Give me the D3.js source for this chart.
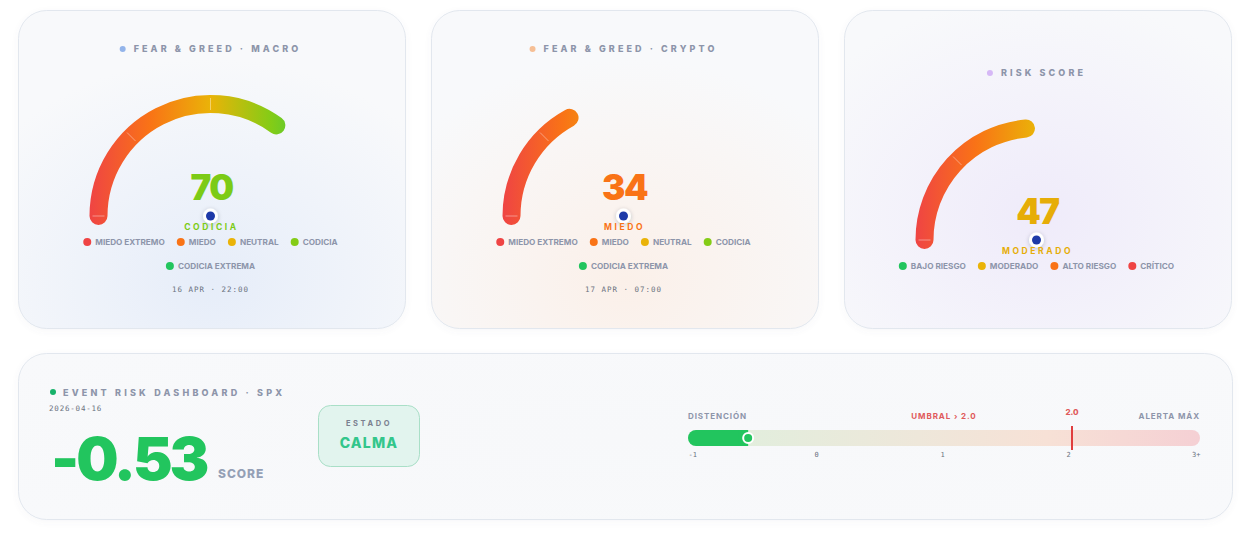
<!DOCTYPE html>
<html><head><meta charset="utf-8">
<script src="https://cdn.jsdelivr.net/npm/d3@7"></script>
<style>
html,body{margin:0;padding:0;background:#ffffff;}
svg{display:block;font-family:Inter,"Noto Sans",sans-serif;}
.mono{font-family:"DejaVu Sans Mono","Liberation Mono",monospace;}
</style></head>
<body><svg id="chart" width="1258" height="535"></svg>
<script>
// ---------- DATA ----------
const gaugeTitles = ["FEAR & GREED · MACRO", "FEAR & GREED · CRYPTO", "RISK SCORE"];
const gaugeValues = [70, 34, 47];
const gaugeLabels = ["CODICIA", "MIEDO", "MODERADO"];
const gaugeDates = ["16 APR · 22:00", "17 APR · 07:00", ""];
const fearGreedLegend = ["MIEDO EXTREMO", "MIEDO", "NEUTRAL", "CODICIA", "CODICIA EXTREMA"];
const riskLegend = ["BAJO RIESGO", "MODERADO", "ALTO RIESGO", "CRÍTICO"];
const gaugeTicks = [0, 25, 50, 75, 100];
const eventTitle = "EVENT RISK DASHBOARD · SPX";
const eventDate = "2026-04-16";
const eventScore = -0.53;
const eventState = "CALMA";
const eventThreshold = 2.0;
const barTickValues = [-1, 0, 1, 2, 3];
const barTickLabels = ["-1", "0", "1", "2", "3+"];

// ---------- STYLE ----------
const gradStops = ["#ef4444", "#f97316", "#eab308", "#84cc16", "#22c55e"];
const fgColors = ["#ef4444", "#f97316", "#eab308", "#84cc16", "#22c55e"];
const riskColors = ["#22c55e", "#eab308", "#f97316", "#ef4444"];
const valueColors = ["#7ccb16", "#f97316", "#e6ad08"];
const titleDots = ["#93b4ea", "#f6bf95", "#d6b8f6"];
const glowColors = ["#e6edf9", "#fbf0e9", "#efebfa"];
const textGray = "#8d95aa";

const svg = d3.select("#chart");
const defs = svg.append("defs");
const fmtMinus = d3.formatLocale({ decimal: ".", thousands: ",", grouping: [3], currency: ["$", ""], minus: "-" });

const sh = defs.append("filter").attr("id", "dotShadow").attr("x", "-100%").attr("y", "-100%").attr("width", "300%").attr("height", "300%");
sh.append("feDropShadow").attr("dx", 0).attr("dy", 1).attr("stdDeviation", 2).attr("flood-color", "#1e293b").attr("flood-opacity", 0.25);
const cs = defs.append("filter").attr("id", "cardShadow").attr("x", "-10%").attr("y", "-10%").attr("width", "120%").attr("height", "130%");
cs.append("feDropShadow").attr("dx", 0).attr("dy", 2).attr("stdDeviation", 3).attr("flood-color", "#64748b").attr("flood-opacity", 0.05);

// ---------- CARDS ----------
const cardW = 387, cardH = 318, cardY = 10;
const cardXs = [18, 431, 844];

function card(x, y, w, h, glow, gid, gcx, gcy) {
  const rg = defs.append("radialGradient").attr("id", gid).attr("cx", gcx).attr("cy", gcy).attr("r", "70%");
  rg.append("stop").attr("offset", "0%").attr("stop-color", glow);
  rg.append("stop").attr("offset", "100%").attr("stop-color", "#f8f9fb");
  svg.append("rect").attr("x", x + 0.5).attr("y", y + 0.5).attr("width", w).attr("height", h).attr("rx", 28)
    .attr("fill", "url(#" + gid + ")").attr("stroke", "#e2e7ee").attr("stroke-width", 1).attr("filter", "url(#cardShadow)");
}

// value -> angle in canvas convention (0 = 3 o'clock, clockwise); 0 => left, 100 => right
const angle = d3.scaleLinear().domain([0, 100]).range([Math.PI, 2 * Math.PI]);
const R = 112, SW = 18;

gaugeValues.forEach((val, i) => {
  const x0 = cardXs[i];
  const isRisk = i === 2;
  card(x0, cardY, cardW, cardH, glowColors[i], "glow" + i, "50%", isRisk ? "65%" : "85%");
  const cx = x0 + cardW / 2 - 1;
  const cy = isRisk ? 240 : 216;
  const titleY = isRisk ? 72 : 48;
  const g = svg.append("g");

  // title
  const t = g.append("text").attr("y", titleY + 1).attr("dy", "0.35em").attr("font-size", 9).attr("font-weight", 800)
    .attr("letter-spacing", "3.1px").attr("fill", textGray).text(gaugeTitles[i]);
  const tw = t.node().getComputedTextLength();
  const total = tw + 14;
  t.attr("x", cx - total / 2 + 14);
  g.append("circle").attr("cx", cx - total / 2 + 3).attr("cy", titleY + 1).attr("r", 3).attr("fill", titleDots[i]);

  // gradient across the gauge (coordinates relative to gauge centre)
  const gradId = "arcGrad" + i;
  const lg0 = defs.append("linearGradient").attr("id", gradId).attr("gradientUnits", "userSpaceOnUse")
    .attr("x1", -R - SW / 2).attr("x2", R + SW / 2).attr("y1", 0).attr("y2", 0);
  gradStops.forEach((c, k) => lg0.append("stop").attr("offset", k / (gradStops.length - 1)).attr("stop-color", c));

  const ag = g.append("g").attr("transform", `translate(${cx},${cy})`);
  const p = d3.path();
  p.arc(0, 0, R, angle(0), angle(val), false);
  ag.append("path").attr("d", p.toString()).attr("fill", "none")
    .attr("stroke", `url(#${gradId})`).attr("stroke-width", SW).attr("stroke-linecap", "round");
  // tick marks
  ag.selectAll("line.tk").data(gaugeTicks.filter(v => v < val)).join("line").attr("class", "tk")
    .attr("x1", d => (R - 6) * Math.cos(angle(d))).attr("y1", d => (R - 6) * Math.sin(angle(d)))
    .attr("x2", d => (R + 6) * Math.cos(angle(d))).attr("y2", d => (R + 6) * Math.sin(angle(d)))
    .attr("stroke", "#ffffff").attr("stroke-opacity", 0.4).attr("stroke-width", 1);

  // value
  g.append("text").attr("x", cx + 1).attr("y", cy - 16).attr("text-anchor", "middle").attr("font-size", 35)
    .attr("font-weight", 900).attr("letter-spacing", "-1.5px").attr("fill", valueColors[i]).text(val);
  // needle dot
  g.append("circle").attr("cx", cx).attr("cy", cy).attr("r", 7.5).attr("fill", "#ffffff").attr("filter", "url(#dotShadow)");
  g.append("circle").attr("cx", cx).attr("cy", cy).attr("r", 4.5).attr("fill", "#1e3aa8");
  // label
  g.append("text").attr("x", cx + 1).attr("y", cy + 11).attr("dy", "0.35em").attr("text-anchor", "middle").attr("font-size", 8.5)
    .attr("font-weight", 700).attr("letter-spacing", "2.6px").attr("fill", valueColors[i]).text(gaugeLabels[i]);

  // legend
  const items = isRisk ? riskLegend : fearGreedLegend;
  const cols = isRisk ? riskColors : fgColors;
  const lg = g.append("g");
  const measured = items.map((name, k) => {
    const tt = lg.append("text").attr("font-size", 8.2).attr("font-weight", 700).attr("fill", textGray).attr("dy", "0.35em").text(name);
    return { name, color: cols[k], node: tt, w: 8 + tt.node().getComputedTextLength() };
  });
  const maxW = 300, gap = 12;
  const rows = [[]];
  let cur = 0;
  measured.forEach(m => {
    const add = (rows[rows.length - 1].length ? gap : 0) + m.w;
    if (cur + add > maxW && rows[rows.length - 1].length) { rows.push([m]); cur = m.w; }
    else { rows[rows.length - 1].push(m); cur += add; }
  });
  rows.forEach((row, r) => {
    const rw = d3.sum(row, m => m.w + 4) + gap * (row.length - 1);
    let x = cx - rw / 2;
    const y = cy + 26 + r * 24;
    row.forEach(m => {
      lg.append("circle").attr("cx", x + 4).attr("cy", y).attr("r", 4).attr("fill", m.color);
      m.node.attr("x", x + 12).attr("y", y);
      x += m.w + 4 + gap;
    });
  });
  if (gaugeDates[i]) {
    g.append("text").attr("class", "mono").attr("x", cx).attr("y", cy + 73).attr("dy", "0.35em").attr("text-anchor", "middle")
      .attr("font-size", 7.5).attr("letter-spacing", "1px").attr("fill", "#6b7280").text(gaugeDates[i]);
  }
});

// ---------- EVENT CARD ----------
card(18, 353, 1214, 166, "#f7f8fa", "glow3", "50%", "50%");
const eg = svg.append("g");
eg.append("circle").attr("cx", 53).attr("cy", 392).attr("r", 3).attr("fill", "#17b26a");
eg.append("text").attr("x", 63).attr("y", 393).attr("dy", "0.35em").attr("font-size", 9).attr("font-weight", 800)
  .attr("letter-spacing", "3.2px").attr("fill", textGray).text(eventTitle);
eg.append("text").attr("class", "mono").attr("x", 49).attr("y", 408).attr("dy", "0.35em").attr("font-size", 7.5)
  .attr("letter-spacing", "0.8px").attr("fill", "#6b7280").text(eventDate);
const big = eg.append("text").attr("x", 51).attr("y", 480).attr("font-size", 62).attr("font-weight", 900)
  .attr("letter-spacing", "-3px").attr("fill", "#22c55e").text(fmtMinus.format(".2f")(eventScore));
// fit number width to the card's layout slot
const bigW = big.node().getComputedTextLength();
if (bigW > 156) big.attr("font-size", 62 * 156 / bigW);
eg.append("text").attr("x", 218).attr("y", 478).attr("font-size", 12).attr("font-weight", 800)
  .attr("letter-spacing", "1px").attr("fill", "#94a0b6").text("SCORE");

// state box
eg.append("rect").attr("x", 318.5).attr("y", 405.5).attr("width", 101).attr("height", 61).attr("rx", 12)
  .attr("fill", "#e2f4ee").attr("stroke", "#a9dfc7").attr("stroke-width", 1);
eg.append("text").attr("x", 369).attr("y", 423).attr("dy", "0.35em").attr("text-anchor", "middle").attr("font-size", 7.5)
  .attr("font-weight", 700).attr("letter-spacing", "2.6px").attr("fill", "#7b8190").text("ESTADO");
eg.append("text").attr("x", 369).attr("y", 443).attr("dy", "0.35em").attr("text-anchor", "middle").attr("font-size", 14)
  .attr("font-weight", 800).attr("letter-spacing", "1.2px").attr("fill", "#33c68b").text(eventState);

// bar
const bx = d3.scaleLinear().domain([-1, 3]).range([688, 1200]);
const barY = 430, barH = 16;
const lgd = defs.append("linearGradient").attr("id", "barGrad");
[["0%", "#def0de"], ["45%", "#eee7da"], ["70%", "#f7e1d6"], ["100%", "#f5d0d4"]].forEach(s =>
  lgd.append("stop").attr("offset", s[0]).attr("stop-color", s[1]));
eg.append("rect").attr("x", bx(-1)).attr("y", barY).attr("width", bx(3) - bx(-1)).attr("height", barH).attr("rx", 8).attr("fill", "url(#barGrad)");
eg.append("rect").attr("x", bx(-1)).attr("y", barY).attr("width", bx(eventScore) - bx(-1)).attr("height", barH).attr("rx", 8).attr("fill", "#22c55e");
eg.append("rect").attr("x", bx(eventScore) - 10).attr("y", barY).attr("width", 10).attr("height", barH).attr("fill", "#22c55e");
eg.append("circle").attr("cx", bx(eventScore)).attr("cy", barY + barH / 2).attr("r", 5).attr("fill", "#22c55e").attr("stroke", "#ffffff").attr("stroke-width", 2);
// threshold
eg.append("line").attr("x1", bx(eventThreshold)).attr("x2", bx(eventThreshold)).attr("y1", 426).attr("y2", 450)
  .attr("stroke", "#e03e3e").attr("stroke-width", 2);
eg.append("text").attr("x", bx(eventThreshold)).attr("y", 412).attr("dy", "0.35em").attr("text-anchor", "middle").attr("font-size", 8)
  .attr("font-weight", 800).attr("fill", "#e05a5a").text(d3.format(".1f")(eventThreshold));
eg.append("text").attr("x", bx(-1)).attr("y", 416).attr("dy", "0.35em").attr("font-size", 8).attr("font-weight", 700)
  .attr("letter-spacing", "0.9px").attr("fill", textGray).text("DISTENCIÓN");
eg.append("text").attr("x", (bx(-1) + bx(3)) / 2).attr("y", 416).attr("dy", "0.35em").attr("text-anchor", "middle").attr("font-size", 8)
  .attr("font-weight", 700).attr("letter-spacing", "0.9px").attr("fill", "#e05a5a").text("UMBRAL › " + d3.format(".1f")(eventThreshold));
eg.append("text").attr("x", bx(3)).attr("y", 416).attr("dy", "0.35em").attr("text-anchor", "end").attr("font-size", 8)
  .attr("font-weight", 700).attr("letter-spacing", "0.9px").attr("fill", textGray).text("ALERTA MÁX");
// ticks axis
const axis = d3.axisBottom(bx).tickValues(barTickValues).tickSize(0).tickPadding(0).tickFormat((d, k) => barTickLabels[k]);
const ax = eg.append("g").attr("transform", `translate(0,${452})`).call(axis);
ax.select(".domain").remove();
ax.selectAll("text").attr("class", "mono").attr("font-size", 7).attr("fill", "#6b7280").attr("dy", "0.71em")
  .attr("font-family", "DejaVu Sans Mono, monospace")
  .attr("text-anchor", (d, k) => k === 0 ? "start" : (k === barTickValues.length - 1 ? "end" : "middle"))
  .attr("dx", (d, k) => (k > 0 && k < barTickValues.length - 1) ? -2 * k + 2 : 0);
</script></body></html>
